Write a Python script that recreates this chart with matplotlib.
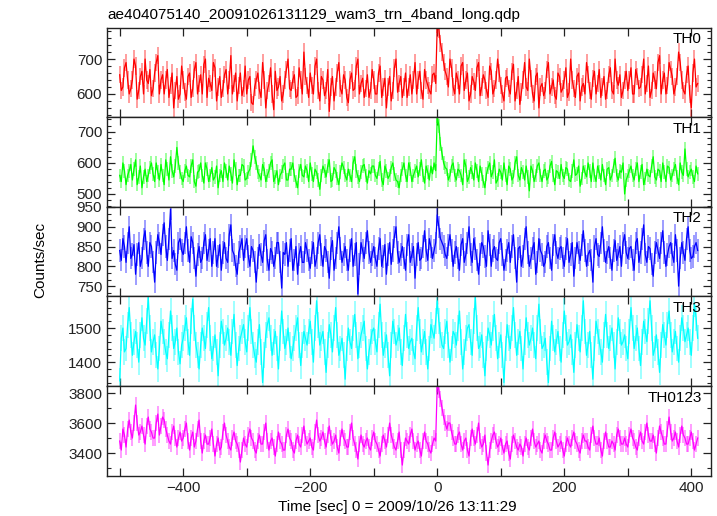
import numpy as np
import matplotlib
matplotlib.use("Agg")
import matplotlib.pyplot as plt
from matplotlib.ticker import MultipleLocator, FuncFormatter

plt.rcParams["font.family"] = ["Liberation Sans", "DejaVu Sans"]

title = "ae404075140_20091026131129_wam3_trn_4band_long.qdp"
xlabel = "Time [sec] 0 = 2009/10/26 13:11:29"
ylabel = "Counts/sec"

# light curves sampled every 2.5 s from -500 s to +410 s;
# *_a = samples at -500, -495, ... ; *_b = samples at -497.5, -492.5, ...
t0, dt = -500.0, 2.5

th0_a = [655, 620, 690, 600, 640, 680, 610, 665, 700, 630, 595, 660, 710, 640, 600, 670, 625, 560, 650, 600,
         640, 585, 660, 615, 690, 630, 600, 700, 645, 610, 675, 620, 590, 655, 600, 710, 630, 580, 660, 615,
         600, 650, 570, 640, 610, 690, 560, 630, 600, 665, 620, 580, 640, 700, 610, 655, 595, 640, 720, 625,
         660, 600, 700, 580, 640, 610, 550, 650, 620, 690, 600, 640, 575, 660, 615, 700, 630, 590, 655, 610,
         640, 600, 680, 620, 560, 650, 610, 700, 630, 590, 660, 620, 600, 690, 640, 610, 670, 625, 600, 660,
         800, 745, 690,
         650, 700, 620, 660, 600, 690, 640, 580, 650, 610, 690, 620, 640, 590, 665, 615, 700,
         625, 580, 650, 600, 685, 610, 570, 640, 620, 700, 600, 650, 560, 630, 610, 690, 620, 595, 660, 605,
         640, 590, 700, 615, 650, 580, 630, 690, 610, 645, 600, 670, 620, 585, 655, 610, 700, 625, 590, 640,
         610, 675, 600, 650, 620, 700, 630, 590, 660, 615, 710, 640, 600, 690, 650, 620, 720, 640, 600, 680,
         560, 700, 630]
th0_b = [610, 675, 640, 615, 700, 585, 650, 600, 640, 670, 615, 690, 600, 655, 640, 590, 660, 610, 585, 680,
         605, 650, 590, 670, 600, 655, 685, 590, 630, 690, 580, 650, 615, 670, 640, 600, 660, 625, 595, 680,
         640, 575, 620, 660, 590, 640, 610, 675, 555, 610, 650, 600, 670, 615, 640, 590, 675, 600, 650, 590,
         625, 680, 610, 650, 595, 670, 620, 580, 660, 615, 655, 590, 640, 610, 680, 600, 645, 615, 590, 670,
         600, 660, 590, 645, 620, 580, 675, 605, 650, 620, 590, 655, 640, 600, 665, 585, 640, 610, 655, 630,
         785, 720, 665,
         620, 675, 600, 640, 680, 610, 660, 600, 635, 675, 595, 655, 610, 680, 600, 640, 660,
         600, 645, 615, 665, 580, 650, 605, 690, 610, 645, 580, 660, 620, 595, 670, 600, 640, 585, 650, 615,
         675, 605, 640, 590, 660, 620, 600, 655, 585, 665, 630, 590, 650, 610, 675, 600, 640, 655, 610, 665,
         640, 600, 670, 615, 655, 600, 680, 610, 640, 690, 600, 660, 625, 670, 600, 650, 690, 610, 655, 600,
         660, 620]

th1_a = [560, 600, 530, 575, 545, 610, 555, 520, 580, 560, 600, 540, 570, 595, 530, 580, 620, 555, 650, 570,
         540, 590, 555, 610, 525, 575, 560, 600, 540, 585, 555, 520, 575, 600, 545, 565, 610, 530, 560, 590,
         550, 580, 655, 600, 560, 595, 540, 575, 610, 555, 530, 570, 600, 545, 580, 560, 520, 595, 555, 575,
         600, 540, 570, 515, 590, 555, 610, 545, 575, 530, 600, 560, 580, 540, 620, 555, 570, 595, 535, 565,
         590, 550, 605, 530, 575, 560, 600, 545, 520, 580, 560, 600, 540, 575, 555, 610, 535, 570, 590, 600,
         750, 660, 600,
         580, 560, 600, 545, 575, 530, 590, 555, 570, 600, 540, 565, 520, 585, 555, 610, 545,
         570, 600, 530, 580, 555, 620, 545, 570, 590, 510, 575, 560, 600, 540, 580, 555, 605, 530, 570, 595,
         550, 580, 540, 610, 565, 525, 590, 555, 575, 600, 540, 570, 595, 530, 585, 560, 615, 545, 570, 500,
         560, 590, 545, 600, 570, 530, 580, 555, 620, 545, 575, 600, 540, 585, 560, 595, 530, 570, 645, 555,
         580, 540, 565]
th1_b = [540, 575, 560, 595, 580, 530, 590, 555, 540, 585, 565, 600, 545, 560, 610, 545, 575, 590, 600, 550,
         575, 560, 590, 540, 570, 600, 535, 580, 560, 545, 590, 560, 540, 575, 590, 535, 580, 560, 595, 545,
         570, 610, 620, 570, 545, 580, 560, 600, 540, 575, 560, 590, 545, 580, 600, 540, 575, 560, 590, 540,
         565, 580, 545, 560, 575, 590, 540, 585, 550, 570, 585, 545, 560, 600, 575, 540, 590, 560, 575, 590,
         560, 580, 545, 590, 550, 585, 565, 540, 560, 600, 540, 580, 560, 590, 580, 560, 590, 545, 565, 575,
         720, 630, 585,
         545, 590, 560, 580, 560, 610, 540, 585, 545, 575, 590, 540, 565, 600, 570, 535, 580,
         545, 560, 590, 545, 600, 560, 585, 545, 555, 590, 540, 590, 560, 575, 545, 590, 560, 575, 550, 560,
         585, 545, 575, 560, 590, 550, 570, 600, 540, 560, 590, 545, 560, 580, 545, 590, 560, 575, 600, 545,
         575, 560, 580, 540, 595, 550, 560, 590, 555, 580, 540, 570, 590, 545, 580, 555, 600, 560, 580, 570,
         555, 590]

th2_a = [840, 870, 810, 900, 830, 780, 860, 820, 890, 800, 850, 760, 880, 830, 910, 815, 945, 840, 790, 870,
         830, 900, 810, 860, 775, 850, 820, 880, 840, 800, 870, 825, 790, 860, 810, 905, 830, 780, 850, 815,
         870, 800, 840, 760, 855, 810, 880, 790, 835, 820, 860, 745, 830, 800, 870, 815, 780, 850, 810, 840,
         795, 860, 820, 880, 800, 840, 770, 865, 820, 900, 810, 850, 790, 870, 830, 730, 860, 820, 890, 810,
         850, 800, 870, 825, 780, 860, 840, 900, 810, 850, 790, 880, 830, 770, 860, 820, 890, 815, 850, 840,
         930, 870, 850,
         820, 880, 800, 850, 790, 870, 830, 900, 810, 845, 780, 860, 825, 890, 800, 850, 815,
         870, 790, 840, 810, 880, 760, 850, 825, 900, 800, 845, 780, 870, 830, 810, 860, 790, 880, 820, 850,
         800, 870, 830, 775, 860, 815, 890, 800, 840, 760, 870, 825, 900, 810, 850, 790, 865, 830, 800, 880,
         820, 850, 790, 870, 835, 905, 810, 845, 775, 860, 820, 890, 800, 850, 830, 880, 750, 860, 815, 900,
         820, 850, 840]
th2_b = [815, 850, 860, 820, 855, 830, 800, 870, 835, 860, 810, 835, 860, 880, 850, 870, 820, 805, 860, 840,
         860, 840, 875, 820, 830, 810, 860, 815, 870, 835, 800, 855, 835, 820, 880, 840, 800, 835, 870, 850,
         825, 850, 810, 820, 830, 865, 815, 845, 800, 860, 810, 835, 860, 840, 790, 850, 830, 810, 860, 815,
         835, 800, 860, 830, 850, 810, 845, 790, 860, 845, 830, 815, 840, 800, 860, 805, 840, 860, 835, 830,
         820, 845, 800, 855, 830, 805, 875, 835, 830, 820, 855, 810, 850, 830, 815, 850, 840, 870, 820, 860,
         900, 860, 830,
         855, 840, 835, 820, 855, 810, 860, 830, 870, 815, 830, 850, 800, 855, 840, 820, 860,
         830, 815, 860, 850, 820, 845, 800, 870, 835, 820, 860, 810, 840, 800, 850, 820, 855, 835, 845, 820,
         845, 810, 860, 820, 835, 855, 840, 830, 815, 850, 830, 860, 840, 835, 820, 840, 815, 850, 860, 835,
         845, 815, 860, 810, 870, 830, 850, 805, 835, 840, 860, 835, 830, 860, 810, 840, 820, 835, 870, 840,
         825, 860]

th3_a = [1345, 1500, 1440, 1560, 1420, 1490, 1400, 1530, 1450, 1590, 1430, 1480, 1380, 1520, 1460, 1410, 1550, 1440, 1500, 1395,
         1470, 1530, 1420, 1585, 1450, 1380, 1500, 1440, 1560, 1410, 1480, 1360, 1520, 1450, 1500, 1420, 1540, 1390, 1470, 1510,
         1430, 1560, 1450, 1400, 1510, 1340, 1480, 1530, 1420, 1490, 1380, 1550, 1440, 1500, 1410, 1470, 1530, 1390, 1490, 1450,
         1520, 1400, 1580, 1450, 1490, 1370, 1510, 1430, 1560, 1420, 1470, 1350, 1500, 1440, 1540, 1410, 1480, 1520, 1380, 1460,
         1500, 1430, 1570, 1420, 1480, 1360, 1520, 1450, 1500, 1390, 1540, 1440, 1470, 1410, 1560, 1430, 1490, 1380, 1510, 1470,
         1580, 1480, 1440,
         1520, 1400, 1490, 1450, 1550, 1380, 1470, 1510, 1420, 1590, 1440, 1480, 1360, 1500, 1450, 1540, 1410,
         1480, 1340, 1510, 1440, 1560, 1420, 1490, 1380, 1530, 1450, 1500, 1410, 1570, 1440, 1470, 1340, 1520, 1430, 1490, 1400,
         1550, 1450, 1480, 1370, 1510, 1430, 1580, 1420, 1490, 1350, 1520, 1460, 1400, 1540, 1440, 1500, 1380, 1530, 1450, 1480,
         1410, 1560, 1440, 1500, 1390, 1520, 1460, 1580, 1420, 1480, 1370, 1510, 1450, 1550, 1430, 1490, 1400, 1530, 1460, 1500,
         1420, 1570, 1470]
th3_b = [1470, 1430, 1510, 1480, 1460, 1450, 1480, 1470, 1520, 1500, 1460, 1420, 1440, 1490, 1430, 1480, 1500, 1460, 1430, 1450,
         1500, 1460, 1520, 1500, 1420, 1450, 1470, 1510, 1470, 1440, 1430, 1450, 1490, 1470, 1460, 1490, 1450, 1440, 1490, 1460,
         1500, 1490, 1420, 1460, 1430, 1420, 1510, 1470, 1460, 1440, 1470, 1490, 1460, 1450, 1440, 1500, 1450, 1450, 1470, 1490,
         1460, 1500, 1510, 1470, 1430, 1450, 1480, 1500, 1480, 1440, 1420, 1440, 1460, 1500, 1480, 1450, 1500, 1440, 1430, 1490,
         1460, 1510, 1480, 1450, 1420, 1450, 1490, 1470, 1430, 1470, 1480, 1460, 1430, 1500, 1490, 1460, 1430, 1440, 1490, 1520,
         1520, 1450, 1490,
         1450, 1440, 1480, 1500, 1460, 1430, 1500, 1460, 1520, 1500, 1450, 1420, 1440, 1480, 1500, 1470, 1450,
         1420, 1440, 1470, 1500, 1480, 1460, 1440, 1460, 1480, 1470, 1450, 1500, 1490, 1450, 1400, 1440, 1470, 1460, 1440, 1480,
         1500, 1460, 1430, 1450, 1470, 1500, 1490, 1450, 1420, 1440, 1490, 1430, 1480, 1480, 1470, 1450, 1460, 1490, 1460, 1440,
         1490, 1500, 1470, 1440, 1460, 1490, 1520, 1500, 1440, 1430, 1450, 1480, 1510, 1480, 1460, 1440, 1470, 1500, 1480, 1460,
         1500, 1530]

th0123_a = [3480, 3560, 3440, 3620, 3500, 3720, 3520, 3580, 3460, 3640, 3540, 3500, 3660, 3580, 3620, 3520, 3460, 3580, 3440, 3540,
            3500, 3600, 3420, 3540, 3480, 3620, 3400, 3520, 3460, 3560, 3380, 3500, 3440, 3600, 3480, 3420, 3540, 3460, 3340, 3500,
            3440, 3560, 3480, 3400, 3520, 3460, 3600, 3420, 3500, 3380, 3540, 3460, 3420, 3560, 3480, 3400, 3520, 3440, 3580, 3460,
            3500, 3420, 3620, 3480, 3540, 3440, 3580, 3460, 3520, 3400, 3560, 3480, 3440, 3600, 3460, 3360, 3520, 3440, 3500, 3420,
            3540, 3460, 3380, 3520, 3440, 3600, 3480, 3420, 3540, 3320, 3500, 3460, 3560, 3420, 3480, 3380, 3540, 3460, 3400, 3500,
            3860, 3760, 3640,
            3560, 3600, 3500, 3460, 3540, 3420, 3500, 3380, 3560, 3460, 3600, 3440, 3520, 3320, 3480, 3540, 3440,
            3500, 3400, 3480, 3360, 3520, 3440, 3460, 3380, 3500, 3420, 3560, 3440, 3480, 3400, 3520, 3460, 3420, 3540, 3440, 3480,
            3380, 3500, 3440, 3540, 3460, 3400, 3520, 3480, 3420, 3580, 3460, 3500, 3380, 3540, 3440, 3480, 3420, 3560, 3460, 3500,
            3440, 3560, 3480, 3420, 3540, 3460, 3600, 3480, 3520, 3400, 3580, 3500, 3460, 3640, 3480, 3540, 3440, 3580, 3500, 3460,
            3540, 3420, 3500]
th0123_b = [3420, 3520, 3560, 3540, 3600, 3600, 3540, 3520, 3580, 3560, 3500, 3600, 3520, 3640, 3560, 3480, 3540, 3500, 3500, 3480,
            3560, 3480, 3500, 3440, 3560, 3480, 3480, 3460, 3500, 3460, 3460, 3420, 3540, 3520, 3440, 3500, 3480, 3420, 3420, 3460,
            3520, 3500, 3420, 3480, 3460, 3540, 3480, 3480, 3440, 3460, 3480, 3420, 3520, 3500, 3420, 3480, 3460, 3520, 3500, 3480,
            3440, 3540, 3520, 3500, 3480, 3520, 3500, 3480, 3440, 3500, 3500, 3440, 3540, 3500, 3420, 3460, 3460, 3480, 3440, 3500,
            3480, 3420, 3460, 3480, 3520, 3520, 3440, 3480, 3420, 3420, 3480, 3520, 3480, 3460, 3420, 3480, 3480, 3420, 3460, 3480,
            3820, 3700, 3600,
            3600, 3540, 3460, 3520, 3460, 3480, 3420, 3500, 3500, 3520, 3480, 3460, 3400, 3420, 3520, 3480, 3460,
            3440, 3460, 3400, 3460, 3480, 3420, 3440, 3460, 3440, 3500, 3480, 3460, 3420, 3480, 3480, 3420, 3500, 3480, 3460, 3420,
            3460, 3460, 3500, 3480, 3420, 3480, 3480, 3440, 3520, 3500, 3460, 3420, 3480, 3480, 3440, 3460, 3520, 3500, 3460, 3460,
            3520, 3500, 3440, 3500, 3480, 3540, 3520, 3480, 3460, 3500, 3540, 3460, 3560, 3540, 3500, 3480, 3520, 3520, 3460, 3500,
            3480, 3460]

bands = ["TH0", "TH1", "TH2", "TH3", "TH0123"]
errors = [25, 22, 28, 38, 55]
ylims = [(534, 789), (458, 748), (725, 950), (1330, 1594), (3247, 3847)]
ymajor = [100, 100, 50, 100, 200]
yminor = [20, 20, 50 / 3, 20, 100]
colors = ["#ff0000", "#00ff00", "#0000ff", "#00ffff", "#ff00ff"]
series = [(th0_a, th0_b), (th1_a, th1_b), (th2_a, th2_b), (th3_a, th3_b), (th0123_a, th0123_b)]

W, H = 717, 516
fig = plt.figure(figsize=(W / 100, H / 100), dpi=100)
left, right = 107, 711
tops = [28, 117, 207, 296, 386, 476]


def interleave(a, b):
    y = np.empty(len(a) + len(b))
    y[0::2] = a
    y[1::2] = b
    return y


for k in range(5):
    y = interleave(*series[k])
    t = t0 + dt * np.arange(len(y))
    ax = fig.add_axes([left / W, 1 - tops[k + 1] / H, (right - left) / W, (tops[k + 1] - tops[k]) / H])
    c = colors[k]
    ax.vlines(t, y - errors[k], y + errors[k], color=c, alpha=0.45, lw=1.2)
    ax.plot(t, y, color=c, lw=0.9)
    ax.set_xlim(-520, 431)
    ax.set_ylim(*ylims[k])
    ax.xaxis.set_major_locator(MultipleLocator(100))
    ax.yaxis.set_major_locator(MultipleLocator(ymajor[k]))
    ax.yaxis.set_minor_locator(MultipleLocator(yminor[k]))
    ax.tick_params(which="both", direction="in", top=True, right=True, labelsize=11, colors="#222222")
    ax.tick_params(which="major", length=6, width=0.9)
    ax.tick_params(which="minor", length=3, width=0.8)
    for s in ax.spines.values():
        s.set_color("#222222")
        s.set_linewidth(1.0)
    ax.text(0.985, 0.95, bands[k], transform=ax.transAxes, ha="right", va="top", fontsize=11)
    if k < 4:
        ax.tick_params(labelbottom=False)
    else:
        ax.xaxis.set_major_formatter(FuncFormatter(
            lambda v, p: f"{int(round(v))}".replace("-", "\u2212") if int(round(v)) % 200 == 0 else ""))

fig.text(left / W, 1 - 15 / H, title, ha="left", va="center", fontsize=11)
fig.text(397 / W, 1 - 507 / H, xlabel, ha="center", va="center", fontsize=11)
fig.text(40 / W, 1 - 260 / H, ylabel, rotation=90, ha="center", va="center", fontsize=11)

fig.savefig("out.png", dpi=100)
